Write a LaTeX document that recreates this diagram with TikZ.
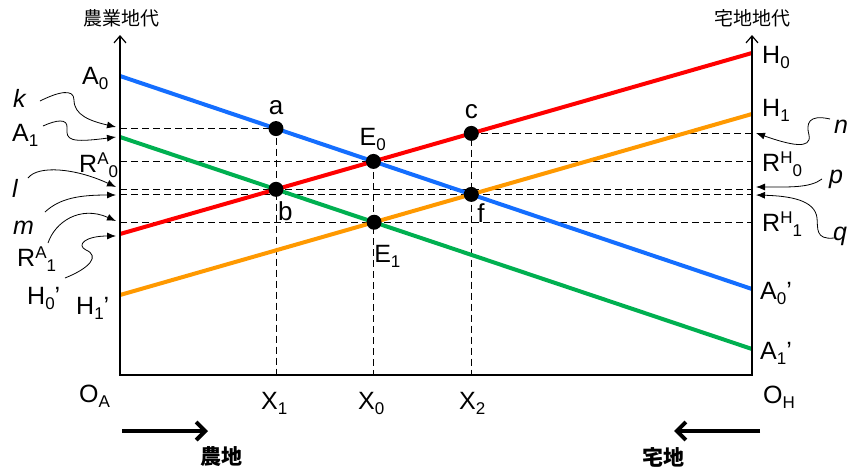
\documentclass[tikz,border=0pt]{standalone}
\usepackage{fontspec}
\setmainfont{Liberation Sans}
\newfontfamily\jpfont{Noto Sans CJK JP}
\usepackage{xcolor}
\usetikzlibrary{arrows.meta,positioning,intersections}

\definecolor{rentblue}{RGB}{20,110,255}
\definecolor{rentgreen}{RGB}{0,176,80}
\definecolor{rentred}{RGB}{255,0,0}
\definecolor{rentorange}{RGB}{255,153,0}
\newcommand{\lsub}[1]{\raisebox{-5pt}{\fontsize{17}{17}\selectfont #1}}
\newcommand{\lsup}[1]{\raisebox{7.5pt}{\fontsize{17}{17}\selectfont #1}}

\begin{document}
\begin{tikzpicture}[x=1pt,y=-1pt,
  every node/.style={font=\fontsize{25}{27}\selectfont,inner sep=0pt},
  rent/.style={line width=4pt},
  guide/.style={line width=0.9pt,dash pattern=on 7pt off 4pt},
  axis/.style={line width=1.2pt,-{Straight Barb[length=7pt,width=12pt]}},
  dot/.style={circle,fill=black,minimum size=15pt},
  ptlabel/.style={font=\fontsize{26}{28}\selectfont},
  lead/.style={line width=0.8pt,-{Latex[length=9pt,width=7pt]}},
  ital/.style={font=\fontsize{25}{28}\selectfont\itshape},
  jp/.style={font=\jpfont\fontsize{19}{21}\selectfont},
  jpb/.style={font=\jpfont\bfseries\fontsize{21}{23}\selectfont},
  fat/.style={line width=4pt,-{Straight Barb[length=9pt,width=18pt]}}]
  \useasboundingbox (0,0) rectangle (853,471);

  % axes
  \coordinate (OA) at (120,375);
  \coordinate (OH) at (752,375);
  \coordinate (TA) at (120,35);
  \coordinate (TH) at (752,35);

  % rent lines
  \coordinate (A0) at (120,76);   \coordinate (A0p) at (752,289);
  \coordinate (A1) at (120,137);  \coordinate (A1p) at (752,349);
  \coordinate (H0p) at (120,234); \coordinate (H0) at (752,53);
  \coordinate (H1p) at (120,295); \coordinate (H1) at (752,114);
  \path[name path=blue] (A0) -- (A0p);
  \path[name path=green] (A1) -- (A1p);
  \path[name path=red] (H0p) -- (H0);
  \path[name path=orange] (H1p) -- (H1);
  \path[name intersections={of=blue and red,by=E0}];
  \path[name intersections={of=green and orange,by=E1}];
  \path[name intersections={of=green and red,by=b}];
  \path[name intersections={of=blue and orange,by=f}];
  \path[name path=vb] (b |- TA) -- (b |- OA);
  \path[name path=vf] (f |- TA) -- (f |- OA);
  \path[name intersections={of=blue and vb,by=a}];
  \path[name intersections={of=red and vf,by=c}];

  % guides
  \draw[guide] (OA |- a) -- (a) -- (a |- OA);
  \draw[guide] (OH |- c) -- (c) -- (c |- OA);
  \draw[guide] (E0) -- (E0 |- OA);
  \foreach \p in {E0,b,f,E1}
    \draw[guide] (OA |- \p) -- (OH |- \p);

  \draw[rent,rentblue] (A0) -- (A0p);
  \draw[rent,rentgreen] (A1) -- (A1p);
  \draw[rent,rentred] (H0p) -- (H0);
  \draw[rent,rentorange] (H1p) -- (H1);

  \draw[axis] (OA) -- (TA);
  \draw[axis] (OH) -- (TH);
  \draw[line width=2pt] ([xshift=-0.6pt]OA) -- ([xshift=0.6pt]OH);

  \foreach \p in {a,b,c,f,E0,E1}
    \node[dot] (d\p) at (\p) {};

  % point labels
  \node[ptlabel,above=6pt of da] (la) {a};
  \node[ptlabel,above=7pt of dc] (lc) {c};
  \node[anchor=base west] (lE0) at ([xshift=-14pt,yshift=8pt]dE0.north) {E\lsub{0}};
  \node[ptlabel,anchor=north west] (lb) at ([xshift=2pt,yshift=-4pt]db.south) {b};
  \node[ptlabel,anchor=north west] (lf) at ([xshift=6pt,yshift=-1pt]df.south) {f};
  \node[anchor=base west] (lE1) at ([xshift=0pt,yshift=-33pt]dE1.south) {E\lsub{1}};

  % axis labels
  \node[jp] (jA) at (121,18) {農業地代};
  \node[jp] (jH) at (752,18) {宅地地代};
  \node[anchor=base west] (lA0) at (82,84) {A\lsub{0}};
  \node[anchor=base west] (lA1) at (12,141) {A\lsub{1}};
  \node[anchor=base west] (lRA0) at (79,172) {R\lsup{A}\lsub{0}};
  \node[anchor=base west] (lRA1) at (17,266) {R\lsup{A}\lsub{1}};
  \node[anchor=base west] (lH0p) at (27,304) {H\lsub{0}’};
  \node[anchor=base west] (lH1p) at (76,314) {H\lsub{1}’};
  \node[ital,anchor=base west] (lk) at (13,107) {k};
  \node[ital,anchor=base west] (ll) at (12,197) {l};
  \node[ital,anchor=base west] (lm) at (13,234) {m};
  \node[anchor=base west] (lH0) at (762,63) {H\lsub{0}};
  \node[anchor=base west] (lH1) at (762,116) {H\lsub{1}};
  \node[anchor=base west] (lRH0) at (762,171) {R\lsup{H}\lsub{0}};
  \node[anchor=base west] (lRH1) at (762,231) {R\lsup{H}\lsub{1}};
  \node[anchor=base west] (lA0p) at (760,299) {A\lsub{0}’};
  \node[anchor=base west] (lA1p) at (760,359) {A\lsub{1}’};
  \node[ital,anchor=base west] (ln) at (834,133) {n};
  \node[ital,anchor=base west] (lp) at (829,183) {p};
  \node[ital,anchor=base west] (lq) at (833,240) {q};
  \node[anchor=base west] (lOA) at (79,402) {O\lsub{A}};
  \node[anchor=base west] (lOH) at (763,403) {O\lsub{H}};
  \node[anchor=base west] (lX1) at (261,409) {X\lsub{1}};
  \node[anchor=base west] (lX0) at (358,409) {X\lsub{0}};
  \node[anchor=base west] (lX2) at (459,409) {X\lsub{2}};

  % leader arrows
  \coordinate (kS) at (40,101);   \coordinate (kT) at (116,127);
  \coordinate (aS) at (43,126);   \coordinate (aT) at (116,137);
  \coordinate (lS) at (28,178);   \coordinate (lT) at (116,187);
  \coordinate (mS) at (45,212);   \coordinate (mT) at (116,195);
  \coordinate (rS) at (48,243);   \coordinate (rT) at (116,221);
  \coordinate (hS) at (65,278);   \coordinate (hT) at (116,236);
  \coordinate (nS) at (830,119);  \coordinate (nT) at (756,133);
  \coordinate (pS) at (822,179);  \coordinate (pT) at (756,187);
  \coordinate (qS) at (834,238);  \coordinate (qT) at (756,195);
  \draw[lead] (kS) .. controls (58,92) and (74,88) .. (74,100) .. controls (74,115) and (90,121) .. (kT);
  \draw[lead] (aS) .. controls (56,120) and (68,118) .. (67,128) .. controls (66,140) and (70,143) .. (aT);
  \draw[lead] (lS) .. controls (38,165) and (75,168) .. (lT);
  \draw[lead] (mS) .. controls (60,198) and (80,195) .. (mT);
  \draw[lead] (rS) .. controls (55,222) and (80,205) .. (rT);
  \draw[lead] (hS) .. controls (90,268) and (100,256) .. (86,250) .. controls (76,245) and (85,236) .. (hT);
  \draw[lead] (nS) .. controls (808,114) and (806,124) .. (809,135) .. controls (812,150) and (790,145) .. (nT);
  \draw[lead] (pS) .. controls (810,188) and (790,187) .. (pT);
  \draw[lead] (qS) .. controls (815,240) and (818,228) .. (817,218) .. controls (815,200) and (790,196) .. (qT);

  % land use
  \coordinate (nouS) at (122,431); \coordinate (nouE) at (208,431);
  \coordinate (takS) at (760,431); \coordinate (takE) at (674,431);
  \draw[fat] (nouS) -- (nouE);
  \draw[fat] (takS) -- (takE);
  \node[jpb] (jNou) at (221,457) {農地};
  \node[jpb] (jTak) at (663,457) {宅地};
\end{tikzpicture}
\end{document}
